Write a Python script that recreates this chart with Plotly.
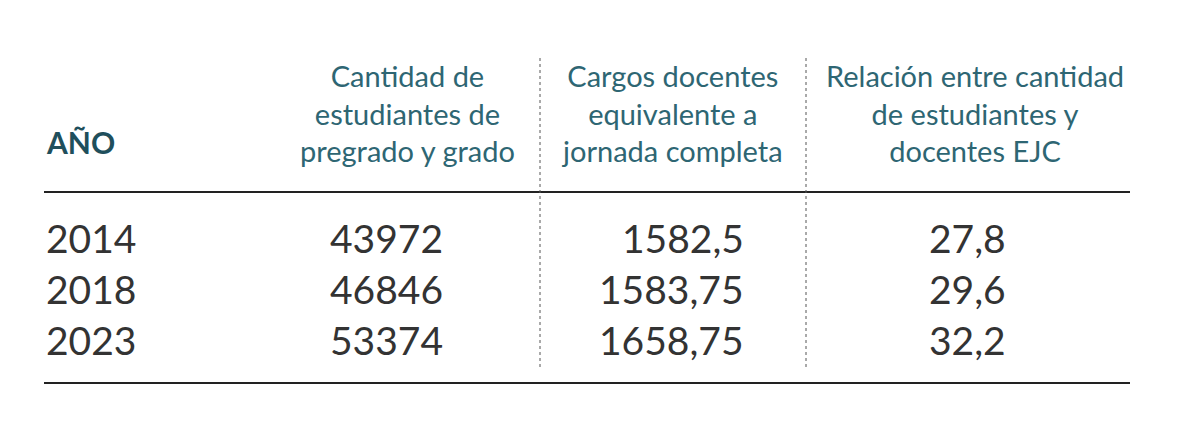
import plotly.graph_objects as go

years = ["2014", "2018", "2023"]
estudiantes = ["43972", "46846", "53374"]
cargos = ["1582,5", "1583,75", "1658,75"]
relacion = ["27,8", "29,6", "32,2"]
header_year = "AÑO"
headers = [
    "Cantidad de<br>estudiantes de<br>pregrado y grado",
    "Cargos docentes<br>equivalente a<br>jornada completa",
    "Relación entre cantidad<br>de estudiantes y<br>docentes EJC",
]

W, H = 1200, 421
OFF = 8  # page body margin offset
head_color = "#2e6673"
body_color = "#333333"
font = "Lato"

fig = go.Figure()
fig.update_layout(
    width=W, height=H, margin=dict(l=0, r=0, t=0, b=0),
    paper_bgcolor="white", plot_bgcolor="white", showlegend=False,
    xaxis=dict(range=[OFF, W + OFF], visible=False, fixedrange=True),
    yaxis=dict(range=[H + OFF, OFF], visible=False, fixedrange=True),
)

# header
fig.add_annotation(x=44, y=142, text="<b>" + header_year + "</b>", xanchor="left", yanchor="middle",
                   showarrow=False, font=dict(family=font, size=30, color="#1f4f5c"))
for cx, h in zip([407, 672, 975], headers):
    fig.add_annotation(x=cx, y=113, text=h, xanchor="center", yanchor="middle", showarrow=False,
                       font=dict(family=font, size=29, color=head_color), align="center")

# body rows
row_y = [238, 289, 340]
for i, y in enumerate(row_y):
    fig.add_annotation(x=44, y=y, text=years[i], xanchor="left", yanchor="middle", showarrow=False,
                       font=dict(family=font, size=39, color=body_color))
    fig.add_annotation(x=386, y=y, text=estudiantes[i], xanchor="center", yanchor="middle", showarrow=False,
                       font=dict(family=font, size=39, color=body_color))
    fig.add_annotation(x=746, y=y, text=cargos[i], xanchor="right", yanchor="middle", showarrow=False,
                       font=dict(family=font, size=39, color=body_color))
    fig.add_annotation(x=967, y=y, text=relacion[i], xanchor="center", yanchor="middle", showarrow=False,
                       font=dict(family=font, size=39, color=body_color))

# rules
for y in [192, 383]:
    fig.add_shape(type="line", x0=44, x1=1130, y0=y, y1=y, line=dict(color="#222222", width=2))
for x in [540, 806]:
    fig.add_shape(type="line", x0=x, x1=x, y0=58, y1=370, line=dict(color="#555555", width=1, dash="dot"))

fig.write_html("out.html")
